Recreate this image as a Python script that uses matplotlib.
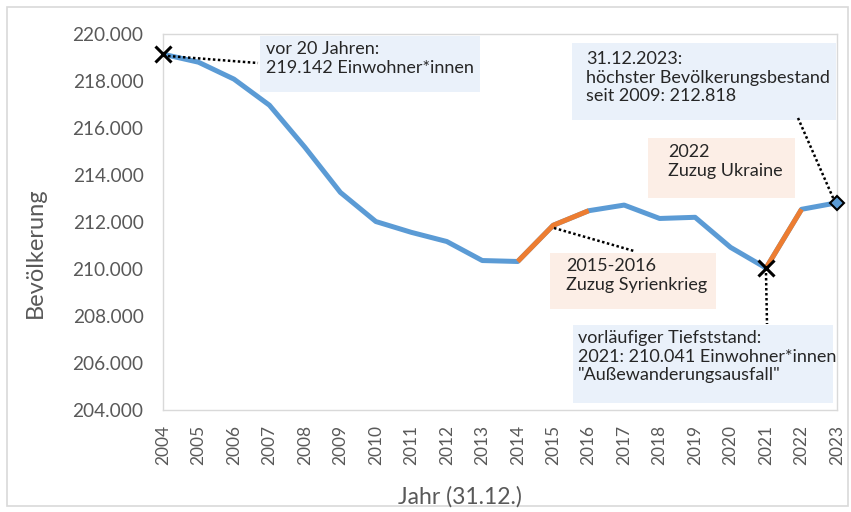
import matplotlib
matplotlib.use("Agg")
import matplotlib.pyplot as plt
from matplotlib.patches import Rectangle
from matplotlib.ticker import FuncFormatter

years = list(range(2004, 2024))
population = [219142, 218800, 218080, 216970, 215180, 213260, 212020, 211560,
              211170, 210360, 210320, 211860, 212480, 212720, 212150, 212200,
              210920, 210041, 212540, 212818]
orange_ranges = [(2014, 2016), (2021, 2022)]

BLUE = "#5B9BD5"
ORANGE = "#ED7D31"
GRAY = "#595959"
plt.rcParams['font.family'] = ['Lato', 'DejaVu Sans']

fig = plt.figure(figsize=(8.51, 5.12), dpi=100)
ax = fig.add_axes([163/851, 1-410/512, (837-163)/851, (410-34)/512])

fig.patches.append(Rectangle((7/851, 6/512), (848-7)/851, (505-6)/512,
                             transform=fig.transFigure, fill=False,
                             edgecolor="#d9d9d9", linewidth=1.2))

ax.plot(years, population, color=BLUE, linewidth=3.6, solid_capstyle="butt",
        solid_joinstyle="round", zorder=3)
for a, b in orange_ranges:
    i0, i1 = years.index(a), years.index(b)
    ax.plot(years[i0:i1+1], population[i0:i1+1], color=ORANGE, linewidth=3.6,
            solid_capstyle="butt", solid_joinstyle="round", zorder=4)

ax.plot([years[0]], [population[0]], marker="x", color="black", markersize=11,
        markeredgewidth=2.2, zorder=6, clip_on=False)
i21 = years.index(2021)
ax.plot([years[i21]], [population[i21]], marker="x", color="black", markersize=11,
        markeredgewidth=2.2, zorder=6, clip_on=False)
ax.plot([years[-1]], [population[-1]], marker="D", markerfacecolor=BLUE,
        markeredgecolor="black", markersize=7, markeredgewidth=1.5, zorder=6,
        clip_on=False)

ax.set_xlim(2004, 2023)
ax.set_ylim(204000, 220000)
ax.set_xticks(years)
ax.set_xticklabels([str(y) for y in years], rotation=90)
ax.set_yticks(range(204000, 220001, 2000))
ax.yaxis.set_major_formatter(FuncFormatter(lambda v, p: f"{int(v):,}".replace(",", ".")))
ax.tick_params(axis="y", length=0, labelsize=13.7, labelcolor=GRAY, pad=14)
ax.tick_params(axis="x", length=0, labelsize=12.5, labelcolor=GRAY, pad=11)
for s in ax.spines.values():
    s.set_color("#d9d9d9")
    s.set_linewidth(1.0)

fig.text(35/851, 1-253/512, "Bevölkerung", rotation=90, ha="center", va="center",
         fontsize=17, color=GRAY)
fig.text(460/851, 1-497/512, "Jahr (31.12.)", ha="center", va="center",
         fontsize=16.5, color=GRAY)

BOXBLUE = "#EAF1FA"
BOXPEACH = "#FCEEE6"
TXT = "#262626"

def box(x0, y0, x1, y1, color, text, tx, ty):
    fig.patches.append(Rectangle((x0/851, 1-y1/512), (x1-x0)/851, (y1-y0)/512,
                                 transform=fig.transFigure, facecolor=color,
                                 edgecolor="none", zorder=1))
    fig.text(tx/851, 1-ty/512, text, ha="left", va="top", fontsize=13,
             color=TXT, linespacing=1.2, zorder=2)

def dotted(x0, y0, x1, y1):
    fig.add_artist(plt.Line2D([x0/851, x1/851], [1-y0/512, 1-y1/512],
                              transform=fig.transFigure, color="black",
                              linewidth=1.8, linestyle=(0, (1, 1)), zorder=5))

box(260, 36, 480, 92, BOXBLUE, "vor 20 Jahren:\n219.142 Einwohner*innen", 266, 41)
box(572, 43, 836, 120, BOXBLUE,
    "31.12.2023:\nhöchster Bevölkerungsbestand\nseit 2009: 212.818", 586, 51)
box(648, 138, 795, 198, BOXPEACH, "2022\nZuzug Ukraine", 668, 144)
box(550, 253, 716, 309, BOXPEACH, "2015-2016\nZuzug Syrienkrieg", 566, 258)
box(573, 325, 833, 403, BOXBLUE,
    "vorläufiger Tiefststand:\n2021: 210.041 Einwohner*innen\n\"Außewanderungsausfall\"",
    578, 330)

dotted(168, 56, 258, 63)
dotted(798, 118, 834, 200)
dotted(554, 228, 634, 251)
dotted(766, 273, 767, 324)

fig.savefig("out.png", dpi=100)
